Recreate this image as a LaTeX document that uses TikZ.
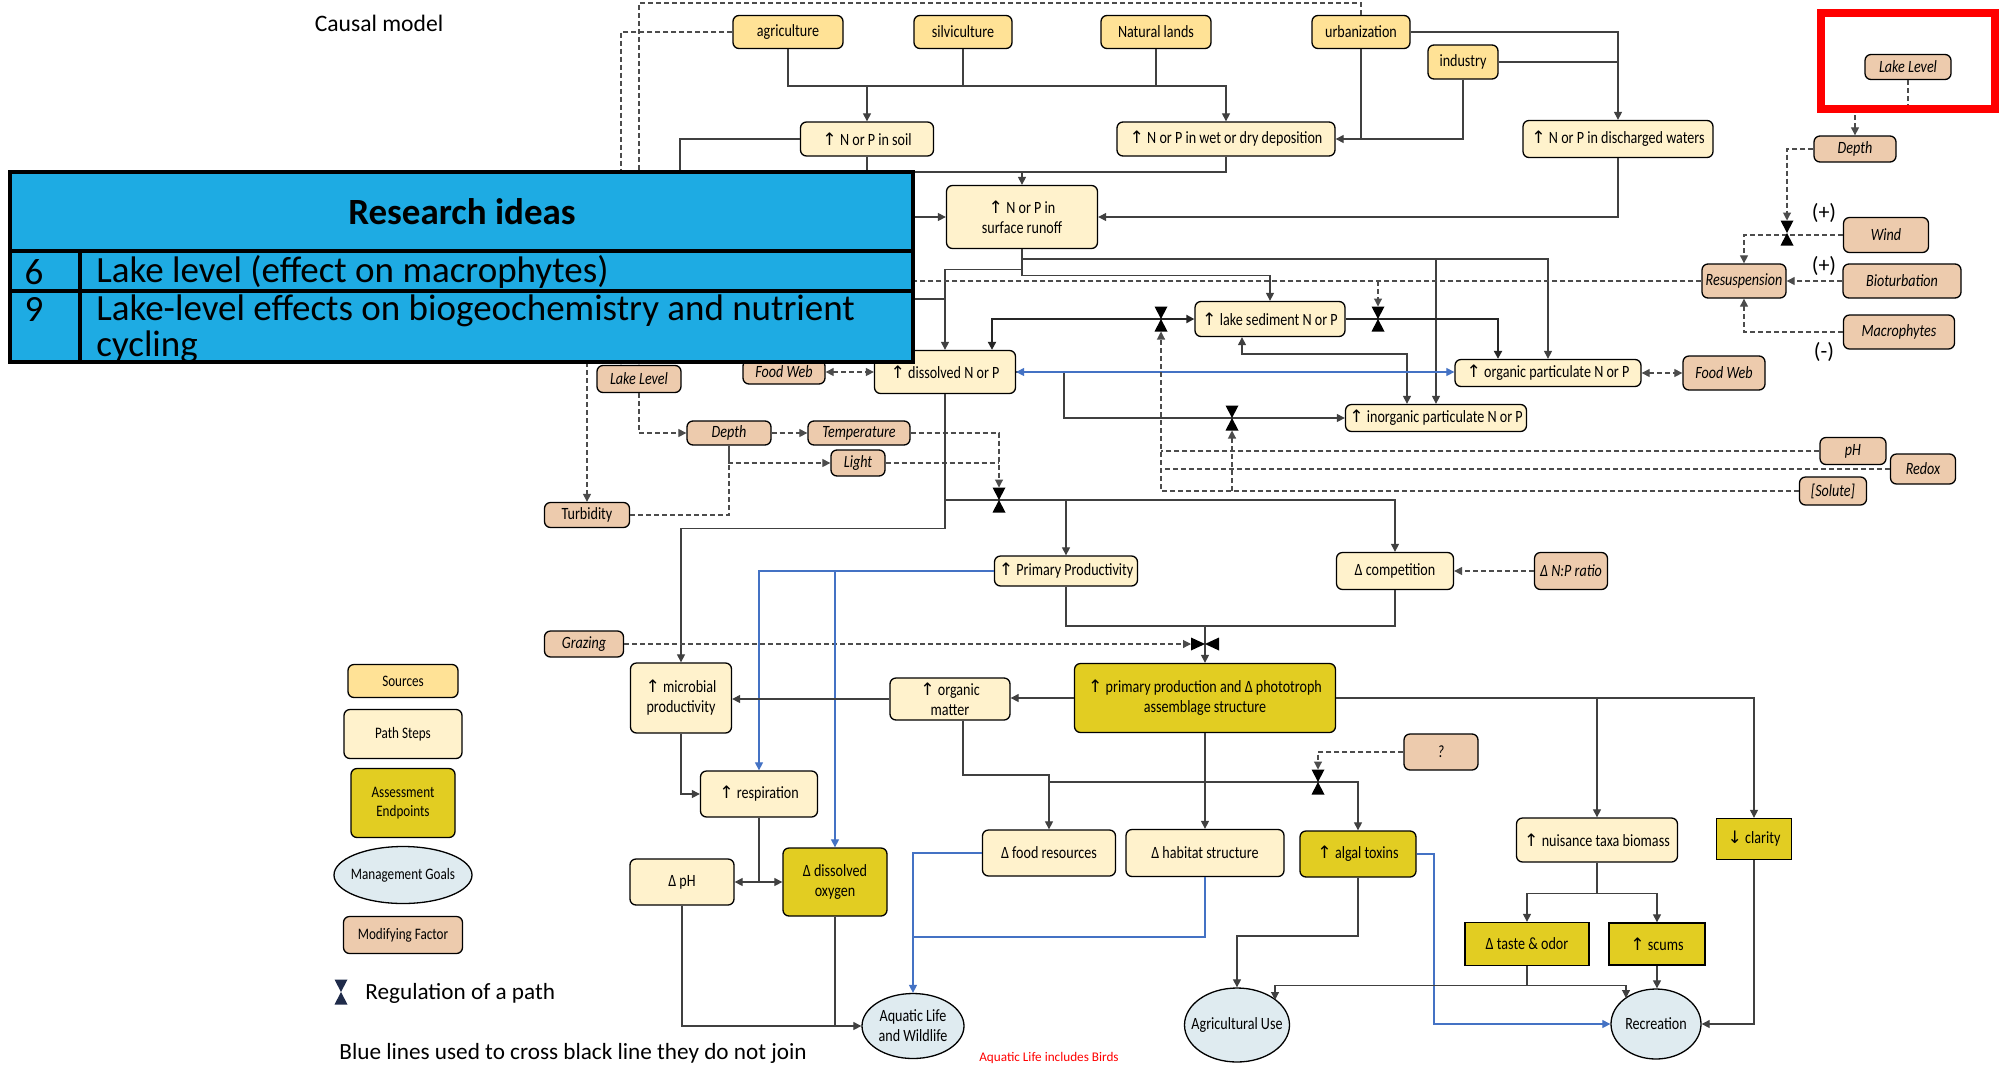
\documentclass[tikz,border=0pt]{standalone}
\usepackage{fontspec}
\setmainfont{Carlito}
\newfontfamily\boxfam[FakeStretch=0.82]{Carlito}
\newfontfamily\symf[Scale=1.0]{DejaVu Sans}
\usetikzlibrary{arrows.meta,shapes.geometric,calc}
\newcommand\UP{{\symf ↑}}
\newcommand\DN{{\symf ↓}}
\newcommand\boxfont{\boxfam\fontsize{8.6}{10}\selectfont}
\newcommand\legfont{\boxfam\fontsize{8}{9.5}\selectfont}
\newcommand\tabfont{\fontsize{18.5}{18}\selectfont}
\definecolor{cSrc}{HTML}{FFE296}
\definecolor{cPath}{HTML}{FFF2CC}
\definecolor{cEnd}{HTML}{E2CD22}
\definecolor{cGoal}{HTML}{DFEBF0}
\definecolor{cMod}{HTML}{EDCBAD}
\definecolor{cTab}{HTML}{1EABE3}
\definecolor{cBlue}{HTML}{4472C4}
\definecolor{cNavy}{HTML}{1F2B4A}
\tikzset{
  base/.style={draw=black, line width=0.65pt, rounded corners=3pt, font=\boxfont, align=center, inner sep=1pt, text=black},
  src/.style={base, fill=cSrc},
  pst/.style={base, fill=cPath},
  aep/.style={base, fill=cEnd},
  aeq/.style={base, fill=cEnd, rounded corners=0pt},
  mf/.style={base, fill=cMod, font=\boxfont\itshape},
  mfu/.style={base, fill=cMod},
  mgt/.style={draw=black, line width=0.65pt, ellipse, fill=cGoal, inner sep=0pt},
  gtxt/.style={font=\boxfont, align=center, inner sep=0pt},
  sz/.style 2 args={minimum width=#1*0.5pt, minimum height=#2*0.5pt},
  ln/.style={draw=black!75, line width=0.55pt},
  boldln/.style={draw=black!85, line width=1.2pt},
  dsh/.style={draw=black!70, line width=0.55pt, dash pattern=on 2.5pt off 1.5pt},
  blu/.style={draw=cBlue, line width=0.6pt},
  arr/.style={-{Triangle[length=4pt,width=4pt]}},
  arrtwo/.style={{Triangle[length=4pt,width=4pt]}-{Triangle[length=4pt,width=4pt]}},
  bowv/.pic={\fill[pic actions] (-6.5,-12.5) -- (6.5,-12.5) -- (0,0) -- cycle (-6.5,12.5) -- (6.5,12.5) -- (0,0) -- cycle;},
  bowh/.pic={\fill[pic actions] (-14,-6.5) -- (-14,6.5) -- (0,0) -- cycle (14,-6.5) -- (14,6.5) -- (0,0) -- cycle;},
  tabbox/.style={draw=black, line width=1.6pt, fill=cTab, inner sep=0pt},
}
\begin{document}
\begin{tikzpicture}[x=0.5pt,y=-0.5pt]
\useasboundingbox (0,0) rectangle (1999,1067);
\fill[white] (0,0) rectangle (1999,1067);

\node[font=\fontsize{11.8}{14}\selectfont] (title) at (379,23) {Causal model};

% ---------- sources ----------
\node[src,sz={110}{33}] (agri) at (788,32) {agriculture};
\node[src,sz={98}{33}] (silvi) at (963,32) {silviculture};
\node[src,sz={110}{33}] (natl) at (1156,32) {Natural lands};
\node[src,sz={98}{33}] (urban) at (1361,32) {urbanization};
\node[src,sz={70}{34}] (indus) at (1463,62) {industry};

% ---------- path steps ----------
\node[pst,sz={133}{34}] (soil) at (867,139) {\UP{} N or P in soil};
\node[pst,sz={218}{34}] (depo) at (1226,139) {\UP{} N or P in wet or dry deposition};
\node[pst,sz={190}{37}] (disch) at (1618,139) {\UP{} N or P in discharged waters};
\node[pst,sz={151}{63}] (runoff) at (1022,217) {\UP{} N or P in\\surface runoff};
\node[pst,sz={150}{35}] (sed) at (1270,319) {\UP{} lake sediment N or P};
\node[pst,sz={141}{43}] (diss) at (945,372) {\UP{} dissolved N or P};
\node[pst,sz={186}{27}] (orgp) at (1548,373) {\UP{} organic particulate N or P};
\node[pst,sz={181}{27}] (inorg) at (1436,418) {\UP{} inorganic particulate N or P};
\node[pst,sz={143}{30}] (pp) at (1066,571) {\UP{} Primary Productivity};
\node[pst,sz={117}{37}] (comp) at (1395,571) {Δ competition};
\node[pst,sz={101}{70}] (micro) at (681,698) {\UP{} microbial\\productivity};
\node[pst,sz={120}{42}] (orgm) at (950,699) {\UP{} organic\\matter};
\node[pst,sz={117}{46}] (resp) at (759,794) {\UP{} respiration};
\node[pst,sz={104}{46}] (dph) at (682,882) {Δ pH};
\node[pst,sz={133}{46}] (food) at (1049,853) {Δ food resources};
\node[pst,sz={158}{47}] (habit) at (1205,853) {Δ habitat structure};
\node[pst,sz={161}{44}] (nuis) at (1597,840) {\UP{} nuisance taxa biomass};

% ---------- assessment endpoints ----------
\node[aep,sz={261}{69}] (ppbig) at (1205,698) {\UP{} primary production and Δ phototroph\\assemblage structure};
\node[aep,sz={104}{68}] (dox) at (835,882) {Δ dissolved\\oxygen};
\node[aep,sz={116}{46}] (toxin) at (1358,854) {\UP{} algal toxins};
\node[aeq,sz={75}{41}] (clar) at (1754,839) {\DN{} clarity};
\node[aeq,sz={124}{43}] (taste) at (1527,944) {Δ taste \& odor};
\node[aeq,sz={96}{42}] (scums) at (1657,944) {\UP{} scums};

% ---------- management goals ----------
\node[mgt,sz={102}{65}] (aqua) at (913,1026) {};
\node[gtxt] (aquaT) at (913,1026) {Aquatic Life\\and Wildlife};
\node[mgt,sz={105}{74}] (agru) at (1237,1025) {};
\node[gtxt] (agruT) at (1237,1025) {Agricultural Use};
\node[mgt,sz={90}{70}] (recr) at (1656,1024) {};
\node[gtxt] (recrT) at (1656,1024) {Recreation};

% ---------- modifying factors ----------
\node[mf,sz={84}{27}] (llL) at (639,379) {Lake Level};
\node[mf,sz={82}{24}] (fwL) at (784,372) {Food Web};
\node[mf,sz={84}{24}] (depL) at (729,433) {Depth};
\node[mf,sz={102}{24}] (temp) at (859,433) {Temperature};
\node[mf,sz={54}{26}] (light) at (858,463) {Light};
\node[mfu,sz={85}{25}] (turb) at (587,515) {Turbidity};
\node[mf,sz={82}{34}] (fwR) at (1724,373) {Food Web};
\node[mf,sz={66}{27}] (phR) at (1853,451) {pH};
\node[mf,sz={65}{30}] (redox) at (1923,469) {Redox};
\node[mf,sz={67}{28}] (solute) at (1833,491) {[Solute]};
\node[mf,sz={73}{37}] (npr) at (1571,571) {Δ N:P ratio};
\node[mf,sz={79}{26}] (graz) at (584,644) {Grazing};
\node[mf,sz={74}{36}] (qm) at (1441,752) {?};
\node[mf,sz={86}{25}] (llR) at (1908,67) {Lake Level};
\node[mf,sz={82}{26}] (depR) at (1855,149) {Depth};
\node[mf,sz={85}{35}] (wind) at (1886,235) {Wind};
\node[mf,sz={118}{34}] (biot) at (1902,281) {Bioturbation};
\node[mf,sz={111}{34}] (macro) at (1899,332) {Macrophytes};
\node[mf,sz={84}{34}] (resus) at (1744,281) {Resuspension};

\node[font=\fontsize{11}{13}\selectfont] (plusA) at (1824,213) {(+)};
\node[font=\fontsize{11}{13}\selectfont] (plusB) at (1824,266) {(+)};
\node[font=\fontsize{11}{13}\selectfont] (minusA) at (1824,352) {(-)};

% ---------- legend ----------
\node[src,sz={110}{33},font=\legfont] (lgS) at (403,681) {Sources};
\node[pst,sz={118}{49},font=\legfont] (lgP) at (403,734) {Path Steps};
\node[aep,sz={104}{69},font=\legfont] (lgA) at (403,803) {Assessment\\Endpoints};
\node[mgt,sz={138}{57}] (lgM) at (403,875) {};
\node[gtxt,font=\legfont] (lgMT) at (403,875) {Management Goals};
\node[mfu,sz={119}{37},font=\legfont] (lgF) at (403,935) {Modifying Factor};
\coordinate (lgB) at (341,992);
\pic[fill=cNavy] at (lgB) {bowv};
\node[anchor=west,inner sep=0pt,font=\fontsize{11.6}{14}\selectfont] (lgR) at (365,993) {Regulation of a path};
\node[anchor=west,inner sep=0pt,font=\fontsize{11.6}{14}\selectfont] (note) at (339,1053) {Blue lines used to cross black line they do not join};
\node[text=red,font=\fontsize{6.6}{8}\selectfont] (birds) at (1049,1058) {Aquatic Life includes Birds};

% ---------- coordinates ----------
\coordinate (jA) at (621,32);
\coordinate (jB) at (639,3);
\coordinate (jC) at (621,300);
\coordinate (jS) at (867,86);
\coordinate (jD) at (867,172);
\coordinate (jE) at (680,139);
\coordinate (jF) at (680,299);
\coordinate (jH) at (1022,259);
\coordinate (jI) at (1407,354);
\coordinate (jJ) at (1064,372);
\coordinate (jK) at (860,282);
\coordinate (jN) at (1205,626);
\coordinate (jO) at (1049,775);
\coordinate (jP) at (1049,782);
\coordinate (jQ) at (913,937);
\coordinate (jR) at (1237,936);
\coordinate (jT) at (1434,1024);
\coordinate (bt1) at (1161,319);  \coordinate (bt1b) at (1161,331.5);
\coordinate (bt2) at (1378,319);  \coordinate (bt2t) at (1378,306.5);
\coordinate (bt3) at (1232,418);  \coordinate (bt3b) at (1232,430.5);
\coordinate (bt4) at (999,500);   \coordinate (bt4t) at (999,487.5);
\coordinate (bt5) at (1205,644);  \coordinate (bt5l) at (1191,644);
\coordinate (bt6) at (1318,782);  \coordinate (bt6t) at (1318,769.5);
\coordinate (bt7) at (1787,233);  \coordinate (bt7t) at (1787,220.5);

% ---------- connectors: top ----------
\draw[dsh,arr] (agri.west) -- (jA) -- (jA |- llL.north);
\draw[dsh,arr] (urban.north) |- (jB) -- (jB |- llL.north);
\draw[dsh,arr] (jC) -| (turb.north);
\draw[ln] (agri.south) |- (natl.south |- jS) -- (natl.south);
\draw[ln] (silvi.south) -- (silvi.south |- jS);
\draw[ln,arr] (jS) -- (soil.north);
\draw[ln,arr] (natl.south |- jS) -| (depo.north);
\draw[ln,arr] (urban.south) |- (depo.east);
\draw[ln] (indus.south) |- (urban.south |- depo.east);
\draw[ln,arr] (urban.east) -| (disch.north);
\draw[ln] (indus.east) -- (indus.east -| disch.north);
\draw[ln] (soil.south) -- (jD) -- (jD -| depo.south) -- (depo.south);
\draw[ln,arr] (runoff.north |- jD) -- (runoff.north);
\draw[ln,arr] (soil.west) -- (jE) |- (runoff.west);
\draw[ln] (jE) -- (jF) -- (jF -| diss.north);
\draw[ln,arr] (disch.south) |- (runoff.east);

% ---------- runoff outputs ----------
\draw[ln,arr] (runoff.south) -- (jH) -| (orgp.north);
\draw[ln,arr] (jH) -| (inorg.north);
\draw[ln,arr] (runoff.south) -- ++(0,20) -| (diss.north);
\draw[ln,arr] (runoff.south) -- ++(0,26) -| (sed.north);

% ---------- sediment / nutrients ----------
\draw[boldln,arrtwo] ([xshift=23.5pt]diss.north) |- (sed.west);
\draw[boldln,arr] (sed.east) -| ([xshift=-25pt]orgp.north);
\draw[ln,arrtwo] ([xshift=-14pt]sed.south) |- (jI) -- (jI |- inorg.north);
\draw[ln,arr] (diss.east) -- (jJ) |- (inorg.west);
\draw[blu,arrtwo] (diss.east) -- (diss.east -| orgp.west);
\draw[dsh,arrtwo] (orgp.east) -- (fwR.west);
\draw[dsh,arrtwo] (fwL.east) -- (diss.west);
\draw[dsh] (resus.west) -- (resus.west -| jK);
\draw[dsh,arr] (bt2 |- resus.west) -- (bt2t);
\draw[dsh] (phR.west) -- (phR.west -| bt1);
\draw[dsh] (redox.west) -- (redox.west -| bt1);
\draw[dsh,arr] (solute.west) -| (bt1b);
\draw[dsh,arr] (solute.west -| bt3) -- (bt3b);

% ---------- left modifiers ----------
\draw[dsh,arr] (llL.south) |- (depL.west);
\draw[dsh,arr] (depL.east) -- (temp.west);
\draw[dsh,arr] (depL.south) |- (light.west);
\draw[dsh] (turb.east) -| (depL.south);
\draw[dsh,arr] (temp.east) -| (bt4t);
\draw[dsh] (light.east) -- (light.east -| bt4);

% ---------- productivity ----------
\draw[ln,arr] (diss.south |- bt4) -| (comp.north);
\draw[ln,arr] (pp.north |- bt4) -- (pp.north);
\draw[ln,arr] (diss.south) -- ++(0,134) -| (micro.north);
\draw[ln] (pp.south) |- (jN);
\draw[ln] (comp.south) |- (jN);
\draw[ln,arr] (jN) -- (ppbig.north);
\draw[dsh,arr] (graz.east) -- (bt5l);
\draw[dsh,arr] (npr.west) -- (comp.east);
\draw[blu,arr] (pp.west) -| (resp.north);
\draw[blu,arr] (pp.west -| dox.north) -- (dox.north);

% ---------- lower part ----------
\draw[ln,arr] (ppbig.west) -- (ppbig.west -| orgm.east);
\draw[ln,arr] (orgm.west) -- (orgm.west -| micro.east);
\draw[ln,arr] (micro.south) |- (resp.west);
\draw[ln,arr] (resp.south) |- (dph.east);
\draw[ln,arr] (resp.south |- dox.west) -- (dox.west);
\draw[ln,arr] (dph.south) |- (aqua.west);
\draw[ln] (dox.south) -- (dox.south |- aqua.west);
\draw[ln,arr] ([xshift=6.5pt]orgm.south) |- (jO) -- (food.north);
\draw[ln,arr] (ppbig.south) -- (habit.north);
\draw[ln,arr] (jP) -| (toxin.north);
\draw[dsh,arr] (qm.west) -| (bt6t);
\draw[blu,arr] (food.west) -| (aqua.north);
\draw[blu] (habit.south) |- (jQ);
\draw[ln,arr] (toxin.south) |- (jR) -- (agru.north);
\draw[blu,arr] (toxin.east) -| (jT) -- (jT -| recr.west);
\draw[ln,arr] (ppbig.east) -| (clar.north);
\draw[ln,arr] (ppbig.east -| nuis.north) -- (nuis.north);
\draw[ln,arr] (nuis.south) -- ++(0,31) -| (taste.north);
\draw[ln,arr] (nuis.south) -- ++(0,31) -| (scums.north);
\draw[ln,arr] (taste.south) -- ++(0,19) -| ([shift={(19pt,12.5pt)}]agru.center);
\draw[ln,arr] (taste.south) -- ++(0,19) -| ([shift={(-15pt,13pt)}]recr.center);
\draw[ln,arr] (scums.south) -- (scums.south |- recr.north);
\draw[ln,arr] (clar.south) |- (recr.east);

% ---------- right modifiers ----------
\draw[dsh,arr] (llR.south) -- ++(0,30) -| (depR.north);
\draw[dsh,arr] (depR.west) -| (bt7t);
\draw[dsh,arr] (wind.west) -| (resus.north);
\draw[dsh,arr] (biot.west) -- (resus.east);
\draw[dsh,arr] (macro.west) -| (resus.south);

% ---------- bowties ----------
\pic at (bt1) {bowv};
\pic at (bt2) {bowv};
\pic at (bt3) {bowv};
\pic at (bt4) {bowv};
\pic at (bt5) {bowh};
\pic at (bt6) {bowv};
\pic at (bt7) {bowv};

% ---------- red frame ----------
\node[draw=red, line width=3.6pt, inner sep=0pt, sz={174}{96}] (redbox) at (1908,61) {};

% ---------- research ideas table ----------
\node[tabbox, sz={903}{79}] (tbhead) at (461.5,211.5) {};
\node[tabbox, sz={903}{40}] (tbsix) at (461.5,271) {};
\node[tabbox, sz={903}{71}] (tbnine) at (461.5,326.5) {};
\coordinate (colx) at (80,300);
\draw[black, line width=1.6pt] (tbsix.north -| colx) -- (tbnine.south -| colx);
\node[font=\tabfont\bfseries] (tbT) at (462,212) {Research ideas};
\node[font=\tabfont, inner sep=0pt] (tbSixN) at (34,272) {6};
\node[font=\tabfont, anchor=west, inner sep=0pt] (tbSixT) at (96,272) {Lake level (effect on macrophytes)};
\node[font=\tabfont, inner sep=0pt] (tbNineN) at (34,309) {9};
\node[font=\tabfont, anchor=west, align=left, inner sep=0pt] (tbNineT) at (96,329) {Lake-level effects on biogeochemistry and nutrient\\cycling};
\end{tikzpicture}
\end{document}
